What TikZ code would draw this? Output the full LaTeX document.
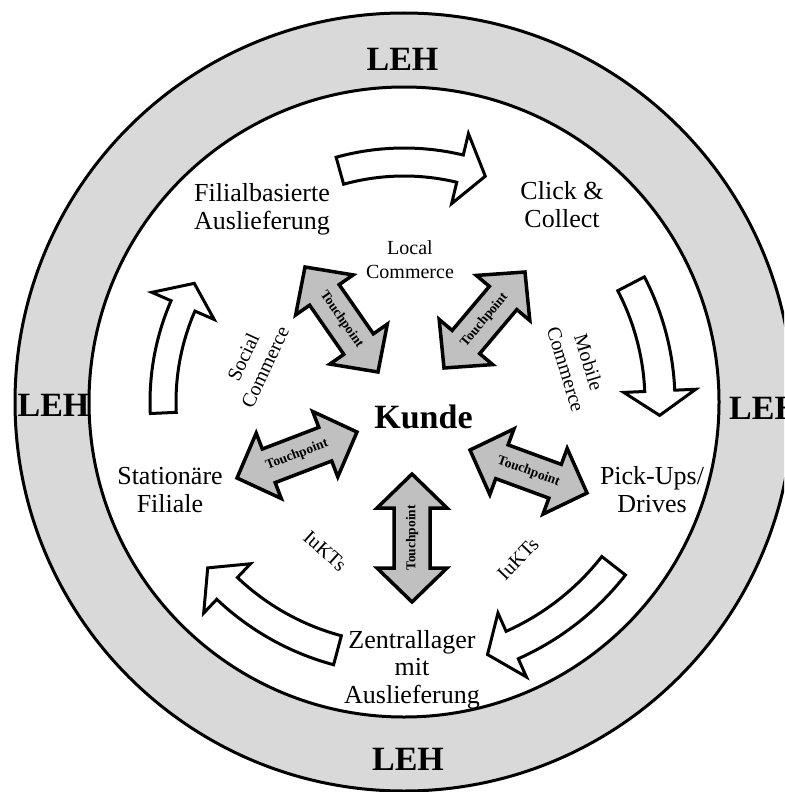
\documentclass[tikz,border=0pt]{standalone}
\usepackage{fontspec}
\setmainfont{Liberation Serif}
\usetikzlibrary{calc}

\definecolor{ringgray}{HTML}{D9D9D9}
\definecolor{tpgray}{HTML}{C0C0C0}

\tikzset{
  ring/.style={draw=black, line width=3pt, fill=ringgray},
  core/.style={draw=black, line width=3pt, fill=white},
  flowarrow/.style={draw=black, line width=3pt, fill=white, line join=miter},
  tparrow/.style={draw=black, line width=3.5pt, fill=tpgray, line join=miter},
  tplabel/.style={font=\fontsize{13.5}{15}\selectfont\bfseries, inner sep=0pt},
  station/.style={font=\fontsize{26}{27.5}\selectfont, align=center, inner sep=0pt, anchor=base},
  channel/.style={font=\fontsize{20}{24}\selectfont, align=center, inner sep=0pt},
  leh/.style={font=\fontsize{34}{36}\selectfont\bfseries, inner sep=0pt, anchor=base},
  kunde/.style={font=\fontsize{34}{36}\selectfont\bfseries, inner sep=0pt, anchor=base},
}

% curved block arrow around the centre:
% radius, body half-width, head half-width, tail angle, head base angle, tip angle
\newcommand\bendarrow[6]{%
  \pgfmathsetmacro\bendRo{#1+#2}\pgfmathsetmacro\bendRi{#1-#2}%
  \pgfmathsetmacro\bendHo{#1+#3}\pgfmathsetmacro\bendHi{#1-#3}%
  \draw[flowarrow] (#4:\bendRo) arc[start angle=#4, end angle=#5, radius=\bendRo]
    -- (#5:\bendHo) -- (#6:#1) -- (#5:\bendHi) -- (#5:\bendRi)
    arc[start angle=#5, end angle=#4, radius=\bendRi] -- cycle;}

% straight double arrow between two tips, labelled "Touchpoint":
% name, tip, tip, text angle
\newcommand\tparrow[4]{%
  \coordinate (#1-h1) at ($(#2)!34pt!(#3)$);
  \coordinate (#1-h2) at ($(#3)!34pt!(#2)$);
  \draw[tparrow] (#2) -- ($(#1-h1)!35pt!90:(#3)$) -- ($(#1-h1)!18pt!90:(#3)$)
    -- ($(#1-h2)!18pt!-90:(#2)$) -- ($(#1-h2)!35pt!-90:(#2)$) -- (#3)
    -- ($(#1-h2)!35pt!90:(#2)$) -- ($(#1-h2)!18pt!90:(#2)$)
    -- ($(#1-h1)!18pt!-90:(#3)$) -- ($(#1-h1)!35pt!-90:(#3)$) -- cycle;
  \node[tplabel, rotate=#4] (#1) at ($(#2)!0.5!(#3)$) {Touchpoint};}

\begin{document}
\begin{tikzpicture}[x=1pt, y=-1pt]
\useasboundingbox (0,0) rectangle (784,792);
\clip (0,0) rectangle (784,792);

\coordinate (C) at (404,402);

% outer ring and inner disc
\draw[ring] (C) circle[radius=389];
\draw[core] (C) circle[radius=315];

% ring labels
\node[leh] (leh-top) at (402.5,70.7) {LEH};
\node[leh] (leh-bottom) at (408,770) {LEH};
\node[leh] (leh-left) at (53.5,416) {LEH};
\node[leh, anchor=base west] (leh-right) at (729,419) {LEH};

% clockwise flow between the channels
\begin{scope}[shift={(C)}]
  \bendarrow{240}{14}{36}{-105.5}{-76.5}{-70.2}
  \bendarrow{256}{15}{36}{-27.5}{-2.5}{3}
  \bendarrow{266}{15}{35}{38}{66}{71.7}
  \bendarrow{257}{15}{34}{105}{133.5}{139.8}
  \bendarrow{241}{13}{34}{-182.6}{-156.5}{-150.5}
\end{scope}

% sales channels (base anchor sits on the last line)
\node[station] (filial) at (262,229) {Filialbasierte\\Auslieferung};
\node[station] (click) at (562,227) {Click \&\\Collect};
\node[station] (stationaer) at (170,512) {Stationäre\\Filiale};
\node[station] (pickup) at (652,512) {Pick-Ups/\\Drives};
\node[station] (zentral) at (412,703) {Zentrallager\\mit\\Auslieferung};

% customer in the centre
\node[kunde] (kunde) at (423.5,428) {Kunde};

% commerce forms
\node[channel, anchor=base] (local) at (410,278) {Local\\Commerce};
\node[channel, rotate=65] (social) at (254,362) {Social\\Commerce};
\node[channel, rotate=-73] (mobile) at (577.5,366) {Mobile\\Commerce};
\node[channel, rotate=-42] (iukt-l) at (325,551) {IuKTs};
\node[channel, rotate=46] (iukt-r) at (518,559) {IuKTs};

% touchpoints around the customer
\coordinate (t1a) at (305,267); \coordinate (t1b) at (378,372);
\coordinate (t2a) at (444,368); \coordinate (t2b) at (525,272);
\coordinate (t3a) at (237,478); \coordinate (t3b) at (357,432);
\coordinate (t4a) at (470,450); \coordinate (t4b) at (587,493);
\coordinate (t5a) at (412,602); \coordinate (t5b) at (412,474);
\tparrow{tp-nw}{t1a}{t1b}{-55}
\tparrow{tp-ne}{t2a}{t2b}{50}
\tparrow{tp-w}{t3a}{t3b}{21}
\tparrow{tp-e}{t4a}{t4b}{-20}
\tparrow{tp-s}{t5a}{t5b}{90}
\end{tikzpicture}
\end{document}
